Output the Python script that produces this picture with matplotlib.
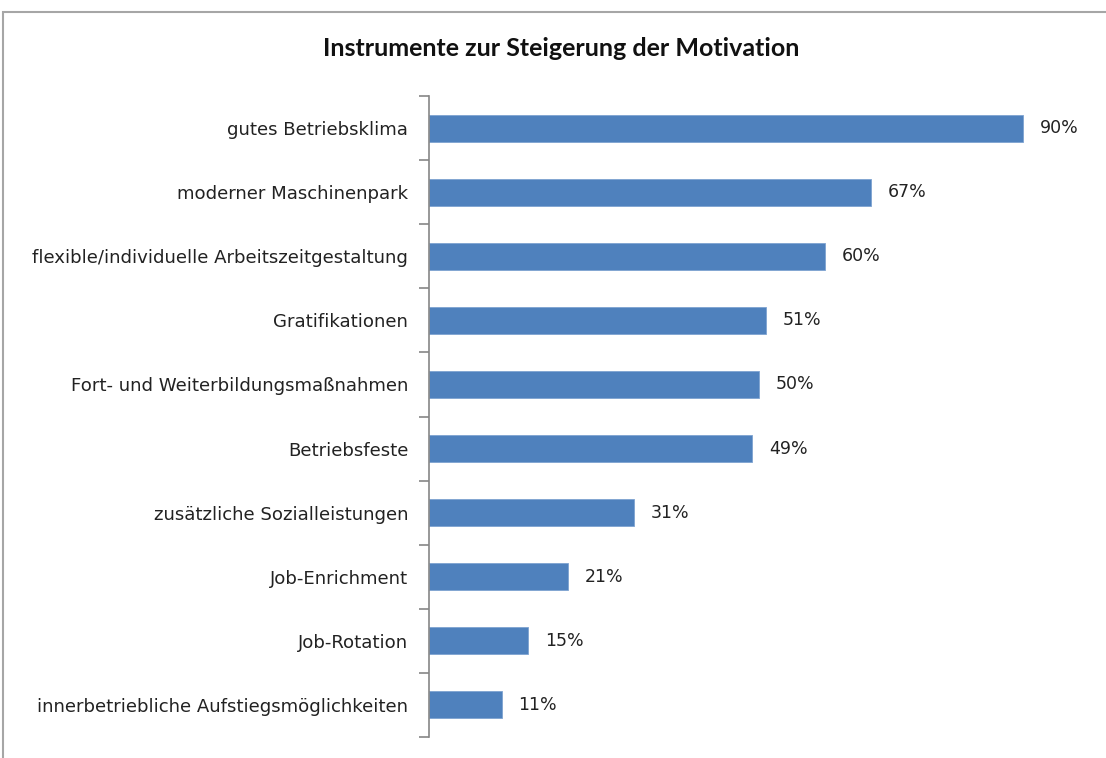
import matplotlib
matplotlib.use("Agg")
import matplotlib.pyplot as plt
from matplotlib.patches import Rectangle

categories = [
    "gutes Betriebsklima",
    "moderner Maschinenpark",
    "flexible/individuelle Arbeitszeitgestaltung",
    "Gratifikationen",
    "Fort- und Weiterbildungsmaßnahmen",
    "Betriebsfeste",
    "zusätzliche Sozialleistungen",
    "Job-Enrichment",
    "Job-Rotation",
    "innerbetriebliche Aufstiegsmöglichkeiten",
]
values = [90, 67, 60, 51, 50, 49, 31, 21, 15, 11]
title = "Instrumente zur Steigerung der Motivation"

plt.rcParams['font.family'] = ['DejaVu Sans']

W, H = 1106, 758
fig = plt.figure(figsize=(W / 100, H / 100), dpi=100)

# figure border (gray, partly cut off)
fig.patches.append(Rectangle((3 / W, -0.05), 1.2, (H - 12) / H + 0.05,
                             transform=fig.transFigure, fill=False,
                             edgecolor="#a6a6a6", linewidth=1.5))

ax = fig.add_axes([429 / W, 21 / H, 660 / W, (737 - 96) / H])
n = len(categories)
ypos = list(range(n))
ax.barh(ypos, values, height=0.42, color="#4F81BD", edgecolor="#7ea3d1", linewidth=0.6)
ax.set_ylim(n - 0.5, -0.5)
ax.set_xlim(0, 100)

ax.set_yticks([i - 0.5 for i in range(n + 1)])
ax.set_yticklabels([])
ax.set_yticks(ypos, minor=True)
ax.set_yticklabels(categories, minor=True, fontsize=13.1, color="#222222")
ax.tick_params(axis="y", which="minor", length=0, pad=15)
ax.tick_params(axis="y", which="major", length=7, width=1.2, color="#868686")
ax.set_xticks([])
for s in ["top", "right", "bottom"]:
    ax.spines[s].set_visible(False)
ax.spines["left"].set_color("#868686")
ax.spines["left"].set_linewidth(1.2)

for y, v in zip(ypos, values):
    ax.annotate(f"{v}%", (v, y), xytext=(12, 0), textcoords="offset points",
                va="center", ha="left", fontsize=12.5, color="#222222")

fig.text(561 / W, 1 - 48 / H, title, ha="center", va="center",
         fontsize=18, fontweight="bold", color="#111111",
         family=["Lato", "DejaVu Sans"])

fig.savefig("out.png", dpi=100)
